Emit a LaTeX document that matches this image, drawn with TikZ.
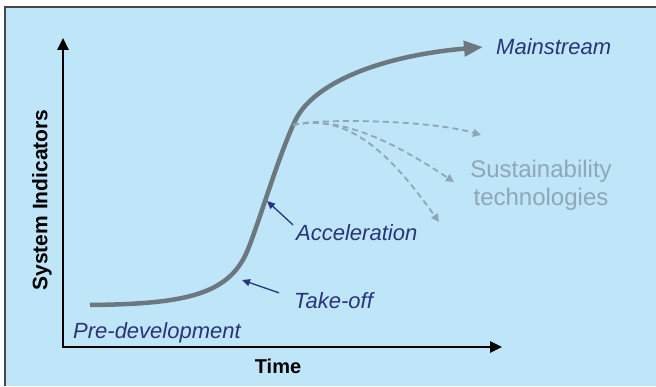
\documentclass[tikz,border=0pt]{standalone}
\usepackage{fontspec}
\setmainfont{Liberation Sans}
\usepackage{tikz}
\usetikzlibrary{arrows.meta}

\definecolor{skybg}{RGB}{190,229,248}
\definecolor{curvegray}{RGB}{108,120,127}
\definecolor{labelnavy}{RGB}{42,52,120}
\definecolor{fadedgray}{RGB}{143,167,181}
\definecolor{framegray}{RGB}{70,70,70}

\begin{document}
\begin{tikzpicture}[x=1pt,y=1pt,
    phase/.style={font=\fontsize{22}{26}\selectfont\itshape, text=labelnavy, inner sep=0pt},
    axislabel/.style={font=\fontsize{20}{24}\selectfont\bfseries, inner sep=0pt},
    pointer/.style={labelnavy, line width=1.3pt, -{Triangle[length=8pt,width=7pt]}},
    branch/.style={fadedgray, line width=1.8pt, dash pattern=on 6pt off 4pt,
      -{Triangle[length=8pt,width=8pt]}}]
  \useasboundingbox (0,0) rectangle (656,386);
  \fill[skybg] (5,0) rectangle (656,379);
  \draw[framegray, line width=1.5pt] (5,0) -- (5,379) -- (656,379);

  % axes
  \coordinate (o) at (63,39);
  \coordinate (ytip) at (63,348);
  \coordinate (xtip) at (502,39);
  \draw[line width=2.5pt, {Triangle[length=12pt,width=11pt]}-{Triangle[length=12pt,width=11pt]}]
    (ytip) -- (o) -- (xtip);
  \node[axislabel, anchor=base] (time) at (278,13) {Time};
  \node[axislabel, font=\fontsize{21}{24}\selectfont\bfseries, rotate=90] (sysind) at (42,186) {System Indicators};

  % labels
  \node[phase, anchor=base west] (predev) at (73,48) {Pre-development};
  \node[phase, anchor=base west] (takeoff) at (294,78) {Take-off};
  \node[phase, anchor=base west] (accel) at (296,146) {Acceleration};
  \node[phase, anchor=base west] (mainstream) at (496,331) {Mainstream};
  \node[font=\fontsize{24}{28}\selectfont, text=fadedgray, align=center, inner sep=0pt]
    (sustain) at (541,201) {Sustainability\\technologies};

  % s-curve
  \draw[curvegray, line width=4.5pt, -{Triangle[length=19pt,width=15pt]}]
    (90,81) .. controls (180,82) and (225,90) .. (245,130)
    .. controls (255,150) and (277,227) .. (295,265)
    .. controls (313,303) and (380,330) .. (483,339);

  % branches
  \coordinate (fork) at (293,261);
  \draw[branch] (fork) .. controls (320,268) and (430,266) .. (481,251);
  \draw[branch] (fork) .. controls (335,270) and (385,250) .. (454,204);
  \draw[branch] (fork) .. controls (345,272) and (385,240) .. (439,164);

  % pointers
  \coordinate (accelpt) at (267,185);
  \coordinate (takeoffpt) at (242,106);
  \draw[pointer] ([xshift=-3pt,yshift=-1pt]accel.north west) -- (accelpt);
  \draw[pointer] ([xshift=-15pt,yshift=-1pt]takeoff.north west) -- (takeoffpt);
\end{tikzpicture}
\end{document}
